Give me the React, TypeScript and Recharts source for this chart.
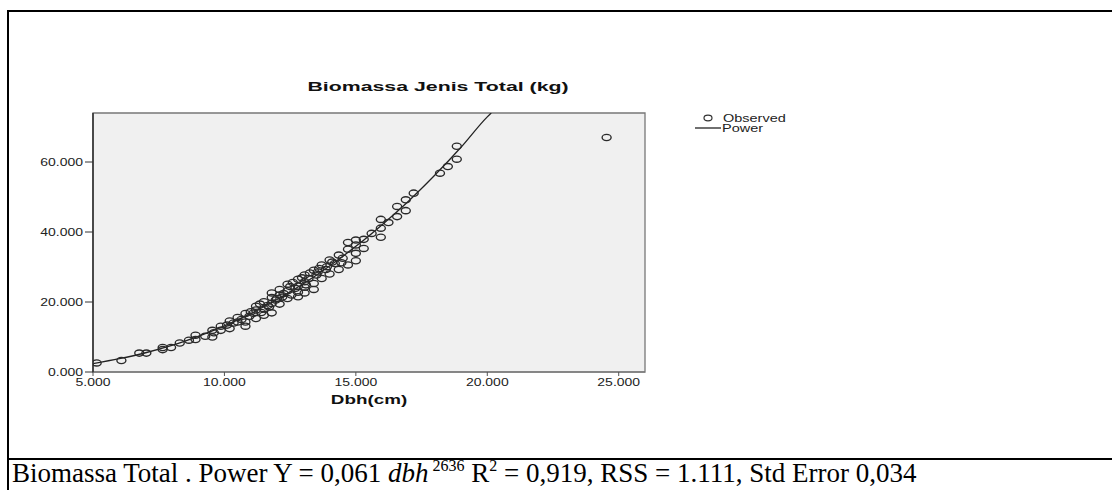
import React from 'react';
import { ComposedChart, Scatter, Line, XAxis, YAxis, ReferenceArea, Legend } from 'recharts';

const xTicks = [5, 10, 15, 20, 25];
const yTicks = [0, 20, 40, 60];

// observed trees (dbh in cm, biomass in kg)
const observedDbh = [
  5.14, 6.08, 6.76, 7.03, 7.65, 7.65, 7.97, 8.3, 8.65, 8.9, 8.9, 9.27, 9.54, 9.54, 9.6,
  9.86, 9.86, 10.1, 10.2, 10.2, 10.5, 10.5, 10.8, 10.8, 10.8, 11.0, 11.2, 11.2, 11.2, 11.35,
  11.5, 11.5, 11.5, 11.65, 11.8, 11.8, 11.8, 11.8, 11.95, 12.0, 12.1, 12.1, 12.1, 12.25, 12.4,
  12.4, 12.4, 12.5, 12.6, 12.8, 12.8, 12.8, 12.8, 12.95, 13.05, 13.05, 13.05, 13.05, 13.2, 13.25,
  13.4, 13.4, 13.4, 13.5, 13.6, 13.7, 13.7, 13.86, 14.0, 14.0, 14.1, 14.2, 14.35, 14.35, 14.5,
  14.7, 14.7, 14.7, 15.0, 15.0, 15.0, 15.0, 15.3, 15.3, 15.6, 15.95, 15.95, 15.95, 16.24, 16.57,
  16.57, 16.9, 16.9, 17.2, 18.2, 18.5, 18.84, 18.84, 24.54,
  10.35, 10.65, 10.95, 11.1, 11.4, 11.7, 12.2, 12.55, 12.7, 13.1, 13.55, 13.9, 14.45,
];
const observedBiomass = [
  2.6, 3.3, 5.4, 5.4, 7.0, 6.4, 7.0, 8.3, 9.1, 10.5, 9.3, 10.2, 11.9, 10.0, 11.2,
  13.1, 11.9, 13.4, 14.6, 12.4, 15.6, 14.3, 16.7, 14.3, 13.1, 17.2, 18.8, 17.7, 15.3, 19.4,
  20.1, 18.1, 16.2, 19.0, 22.6, 21.3, 19.6, 16.9, 20.6, 21.0, 23.6, 22.0, 19.4, 22.4, 25.1,
  23.2, 21.0, 24.4, 25.6, 26.5, 24.5, 21.5, 22.8, 26.9, 27.7, 25.8, 24.2, 22.6, 26.7, 28.3,
  29.1, 25.3, 23.6, 27.7, 29.6, 30.6, 26.7, 29.3, 32.0, 28.0, 31.4, 31.0, 33.4, 29.3, 32.5,
  35.1, 37.0, 30.6, 36.3, 37.7, 33.9, 31.8, 37.9, 35.3, 39.6, 41.1, 43.6, 38.5, 42.7, 47.3,
  44.4, 49.2, 46.1, 51.1, 56.8, 58.7, 64.5, 60.8, 67.0,
  14.0, 15.0, 15.9, 16.8, 17.0, 18.6, 21.4, 22.0, 23.9, 24.9, 28.6, 30.1, 31.2,
];

// fitted power curve
const powerDbh = [5, 6, 7, 8, 9, 10, 11, 12, 13, 14, 15, 16, 17, 18, 19, 20, 20.15];
const powerBiomass = [2.4, 3.8, 5.5, 7.6, 10.2, 13.2, 16.7, 20.7, 25.2, 30.3, 35.9, 42.1, 48.8, 56.2, 64.2, 72.9, 74];

const observed = observedDbh.map((x, i) => ({ x, y: observedBiomass[i] }));
const power = powerDbh.map((x, i) => ({ x, y: powerBiomass[i] }));

const SANS = 'Liberation Sans, Arial, sans-serif';

const XTick = ({ x, y, payload }: any) => (
  <text transform={`translate(${x},${y}) scale(1.4,1)`} textAnchor="middle" dy={7.5}
    fontFamily={SANS} fontSize={10} fill="#222">
    {Number(payload.value).toFixed(3)}
  </text>
);

const YTick = ({ x, y, payload }: any) => (
  <text transform={`translate(${x},${y}) scale(1.4,1)`} textAnchor="end" dy={3.5}
    fontFamily={SANS} fontSize={10} fill="#222">
    {Number(payload.value).toFixed(3)}
  </text>
);

const Ring = (props: any) => (
  <ellipse cx={props.cx} cy={props.cy} rx={4.5} ry={3.1} fill="none" stroke="#2a2a2a" strokeWidth={1.35} />
);

const XTitle = (props: any) => {
  const vb = props.viewBox || {};
  return (
    <text transform={`translate(${vb.x + vb.width / 2},${vb.y + 32}) scale(1.45,1)`} textAnchor="middle"
      fontFamily={SANS} fontSize={13} fontWeight="bold" fill="#111">
      Dbh(cm)
    </text>
  );
};

const LegendBox = () => (
  <svg width={130} height={30}>
    <ellipse cx={20} cy={8} rx={4} ry={2.8} fill="none" stroke="#333" strokeWidth={1.2} />
    <text transform="translate(35,11.5) scale(1.45,1)" fontFamily={SANS} fontSize={10} fill="#222">Observed</text>
    <line x1={7} y1={18} x2={33} y2={18} stroke="#222" strokeWidth={1.3} />
    <text transform="translate(34,21.5) scale(1.45,1)" fontFamily={SANS} fontSize={10} fill="#222">Power</text>
  </svg>
);

export default function App() {
  return (
    <div style={{ position: 'absolute', left: 0, top: 0, width: 1112, height: 490, background: '#fff', overflow: 'hidden' }}>
      <div style={{ position: 'absolute', left: 7, top: 10, width: 1105, height: 2, background: '#000' }} />
      <div style={{ position: 'absolute', left: 7, top: 10, width: 2, height: 480, background: '#000' }} />
      <div style={{ position: 'absolute', left: 7, top: 458, width: 1105, height: 2, background: '#000' }} />

      <svg style={{ position: 'absolute', left: 0, top: 0 }} width={1112} height={110}>
        <text transform="translate(438,91) scale(1.64,1)" textAnchor="middle" fontFamily={SANS}
          fontSize={13} fontWeight="bold" fill="#111">
          Biomassa Jenis Total  (kg)
        </text>
      </svg>

      <div style={{ position: 'absolute', left: 0, top: 0 }}>
        <ComposedChart width={1112} height={490} margin={{ top: 113, left: 33, right: 467, bottom: 88 }}>
          <XAxis type="number" dataKey="x" domain={[5, 26]} ticks={xTicks} allowDataOverflow
            tick={<XTick />} tickSize={4} tickLine={{ stroke: '#555' }} axisLine={{ stroke: '#777', strokeWidth: 1.2 }}
            height={30} label={{ content: <XTitle /> }} />
          <YAxis type="number" domain={[0, 74]} ticks={yTicks} allowDataOverflow width={60}
            tick={<YTick />} tickSize={8} tickLine={{ stroke: '#333' }} axisLine={{ stroke: '#333', strokeWidth: 1.6 }} />
          <ReferenceArea x1={5} x2={26} y1={0} y2={74} fill="#f0f0f0" fillOpacity={1} stroke="#777" strokeWidth={1.3} />
          <Legend layout="vertical" align="center" verticalAlign="middle" content={<LegendBox />}
            wrapperStyle={{ position: 'absolute', left: 688, top: 110, width: 130 }} />
          <Scatter name="Observed" data={observed} dataKey="y" shape={<Ring />} isAnimationActive={false} />
          <Line name="Power" data={power} dataKey="y" type="monotone" dot={false} stroke="#222"
            strokeWidth={1.3} isAnimationActive={false} />
        </ComposedChart>
      </div>

      <div style={{ position: 'absolute', left: 12, top: 460, fontFamily: 'Liberation Serif, Times New Roman, serif',
        fontSize: 27, lineHeight: 1, color: '#000', whiteSpace: 'nowrap' }}>
        Biomassa Total . Power Y = 0,061 <i>dbh</i>
        <sup style={{ fontSize: 16, verticalAlign: 'top', position: 'relative', top: -2 }}> 2636</sup> R
        <sup style={{ fontSize: 16, verticalAlign: 'top', position: 'relative', top: -2 }}>2</sup> = 0,919, RSS = 1.111, Std Error 0,034
      </div>
    </div>
  );
}
